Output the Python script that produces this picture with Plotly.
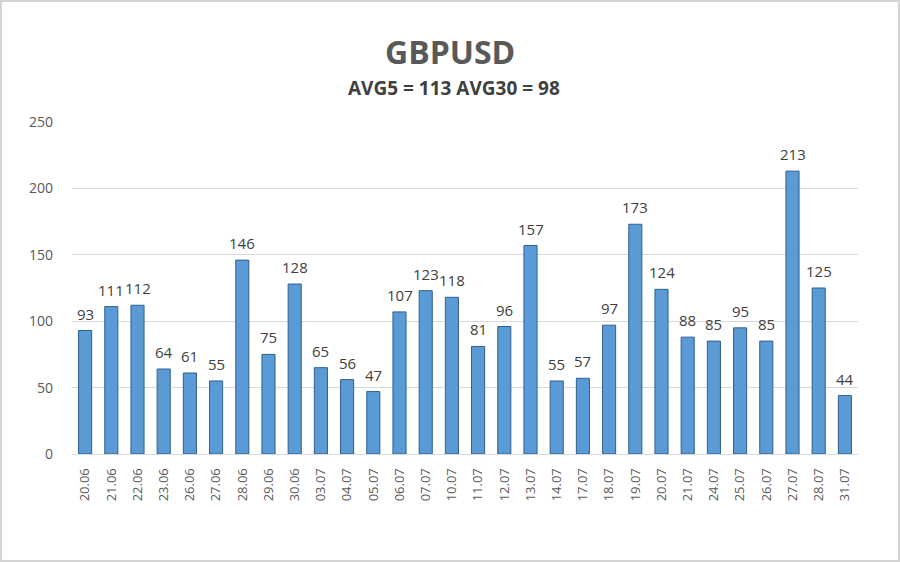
import plotly.graph_objects as go

dates = ["20.06", "21.06", "22.06", "23.06", "26.06", "27.06", "28.06", "29.06", "30.06",
         "03.07", "04.07", "05.07", "06.07", "07.07", "10.07", "11.07", "12.07", "13.07",
         "14.07", "17.07", "18.07", "19.07", "20.07", "21.07", "24.07", "25.07", "26.07",
         "27.07", "28.07", "31.07"]
volatility = [93, 111, 112, 64, 61, 55, 146, 75, 128, 65, 56, 47, 107, 123, 118, 81, 96, 157,
              55, 57, 97, 173, 124, 88, 85, 95, 85, 213, 125, 44]
y_ticks = [0, 50, 100, 150, 200, 250]
title = "GBPUSD"
subtitle = "AVG5 = 113 AVG30 = 98"

W, H = 900, 562
ml, mr, mt, mb = 72, 42, 122, 108
pw, ph = W - ml - mr, H - mt - mb


def py(px):
    # pixel row from top of page -> paper y
    return (H - mb - px) / ph


fig = go.Figure()
fig.add_trace(go.Bar(
    x=dates, y=volatility,
    marker=dict(color="#5b9bd5", line=dict(color="#2f5f8f", width=1)),
    hoverinfo="x+y",
))

# value labels above each bar (category index, since "20.06" would be read as a number)
for i, v in enumerate(volatility):
    fig.add_annotation(x=i, y=v, text=str(v), showarrow=False, yanchor="bottom",
                       yshift=5, font=dict(size=15, color="#404040"))

fig.add_annotation(text="<b>" + title + "</b>", xref="paper", yref="paper",
                   x=0.5 - (ml - mr) / 2 / pw, y=py(51), yanchor="middle", showarrow=False,
                   font=dict(size=32, color="#595959"))
fig.add_annotation(text="<b>" + subtitle + "</b>", xref="paper", yref="paper",
                   x=0.5 - (ml - mr) / 2 / pw + 4 / pw, y=py(88), yanchor="middle",
                   showarrow=False, font=dict(size=19, color="#404040"))

fig.update_layout(
    width=W, height=H,
    margin=dict(l=ml, r=mr, t=mt, b=mb, autoexpand=False),
    paper_bgcolor="white", plot_bgcolor="white",
    font=dict(family="Open Sans", color="#595959"),
    bargap=0.5,
    showlegend=False,
    xaxis=dict(type="category", tickangle=-90, tickfont=dict(size=13, color="#595959"),
               showgrid=False, showline=True, linecolor="#d9d9d9", ticks="",
               ticklabelstandoff=8),
    yaxis=dict(range=[0, 250], tickvals=y_ticks, tickfont=dict(size=14, color="#595959"),
               gridcolor="#d9d9d9", zeroline=False, showline=False, ticks="",
               ticklabelstandoff=18),
    shapes=[dict(type="rect", xref="paper", yref="paper",
                 x0=-(ml - 1) / pw, x1=1 + (mr - 1) / pw,
                 y0=-(mb - 1) / ph, y1=1 + (mt - 1) / ph,
                 line=dict(color="#d4d4d4", width=2))],
)

fig.write_html("out.html", config={"displayModeBar": False},
               post_script="document.body.style.margin='0';")
